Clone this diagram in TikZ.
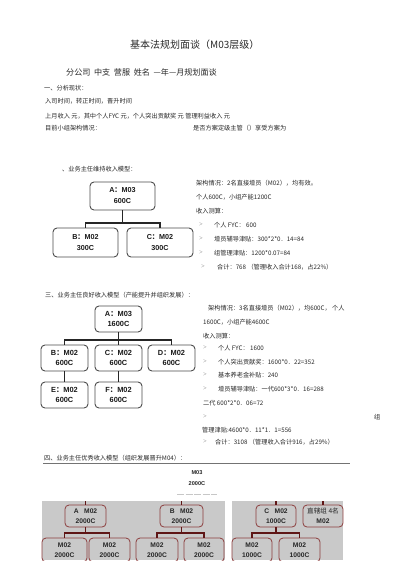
\documentclass[tikz,border=0pt]{standalone}
\usepackage{fontspec}
\setmainfont{Liberation Serif}
\newfontfamily\cjk{Noto Sans CJK SC}
\newfontfamily\arial{Liberation Sans}
\definecolor{panelgray}{RGB}{201,201,201}
\definecolor{boxred}{RGB}{140,62,62}
\definecolor{linered}{RGB}{95,22,22}
\definecolor{txtgray}{RGB}{40,40,40}
\tikzset{
  txt/.style={anchor=west, inner sep=0pt, text=txtgray, font=\cjk\fontsize{6.2}{7}\selectfont},
  gt/.style={anchor=west, inner sep=0pt, text=black!55, font=\fontsize{6.5}{7}\selectfont},
  bx/.style={draw=black!70, line width=0.9pt, rounded corners=4pt, fill=white, align=center,
             inner sep=0pt, text=black!90, font=\arial\bfseries\fontsize{7.2}{11}\selectfont},
  bxs/.style={bx, font=\arial\bfseries\fontsize{7.4}{10.5}\selectfont},
  cn/.style={line width=1.6pt, draw=black!85},
  rbx/.style={draw=boxred, line width=0.8pt, rounded corners=4pt, align=center, inner sep=0pt,
              text=black!85, font=\arial\bfseries\fontsize{6.7}{10}\selectfont},
  rcn/.style={line width=1.5pt, draw=linered}
}
\begin{document}
\begin{tikzpicture}[x=1pt,y=-1pt]
\useasboundingbox[fill=white] (0,0) rectangle (400,566);

% ---------- heading ----------
\node[anchor=west, inner sep=0pt, text=txtgray, font=\cjk\fontsize{10}{12}\selectfont] (title) at (130,45) {基本法规划面谈（M03层级）};
\node[anchor=west, inner sep=0pt, text=txtgray, font=\cjk\fontsize{8.1}{10}\selectfont] (sub) at (66,72) {分公司\hspace{0.45em}中支\hspace{0.45em}营服\hspace{0.45em}姓名\hspace{0.45em}—年—月规划面谈};

\node[txt] (l1) at (44,88) {一、分析现状：};
\node[txt] (l2) at (45,101) {入司时间，转正时间，晋升时间};
\node[txt] (l3) at (45,116) {上月收入\ 元，其中个人FYC\ 元，个人突出贡献奖\ 元\ 管理利益收入\ 元};
\node[txt] (l4) at (45,128) {目前小组架构情况：};
\node[txt] (l5) at (193,128) {是否方案定级主管（）享受方案为};

% ---------- section 2 ----------
\node[txt] (h2) at (62,169) {、业务主任维持收入模型：};

\node[bx, minimum width=65pt, minimum height=28pt] (a1) at (122.5,196) {A{\cjk ：}M03\\600C};
\node[bx, minimum width=65pt, minimum height=29pt] (b1) at (85.5,242.5) {B{\cjk ：}M02\\300C};
\node[bx, minimum width=66pt, minimum height=29pt] (c1) at (160,242.5) {C{\cjk ：}M02\\300C};
\coordinate (j1) at (122.5,223);
\draw[cn] (a1.south) -- (j1);
\draw[cn] (b1.north) |- (j1) -| (c1.north);

\node[txt] (r21) at (196,183) {架构情况：2名直接增员（M02），均有效。};
\node[txt] (r22) at (196,197) {个人600C，小组产能1200C};
\node[txt] (r23) at (196,211) {收入测算：};
\node[gt] (g24) at (199,225) {>};
\node[txt] (r24) at (214,225) {个人\ FYC：\ 600};
\node[gt] (g25) at (199,239) {>};
\node[txt] (r25) at (214,239) {增员辅导津贴：300*2*0．14=84};
\node[gt] (g26) at (199,253) {>};
\node[txt] (r26) at (214,253) {组管理津贴：1200*0.07=84};
\node[gt] (g27) at (201,267) {>};
\node[txt] (r27) at (217,267) {合计：768\ （管理收入合计168，占22\%）};

% ---------- section 3 ----------
\node[txt] (h3) at (45,295) {三、业务主任良好收入模型（产能提升并组织发展）：};

\node[bxs, minimum width=47pt, minimum height=26pt] (a2) at (118.5,319) {A{\cjk ：}M03\\1600C};
\node[bxs, minimum width=47pt, minimum height=26pt] (b2) at (64.5,358) {B{\cjk ：}M02\\600C};
\node[bxs, minimum width=47pt, minimum height=26pt] (c2) at (118.5,358) {C{\cjk ：}M02\\600C};
\node[bxs, minimum width=47pt, minimum height=26pt] (d2) at (171.5,358) {D{\cjk ：}M02\\600C};
\node[bxs, minimum width=47pt, minimum height=26pt] (e2) at (64.5,395) {E{\cjk ：}M02\\600C};
\node[bxs, minimum width=47pt, minimum height=26pt] (f2) at (118.5,395) {F{\cjk ：}M02\\600C};
\coordinate (j2) at (118.5,340);
\draw[cn] (a2.south) -- (j2);
\draw[cn] (b2.north) |- (j2) -| (d2.north);
\draw[cn] (j2) -- (c2.north);
\draw[cn] (b2.south) -- (e2.north);
\draw[cn] (c2.south) -- (f2.north);

\node[txt] (r31) at (208,308) {架构情况：3名直接增员（M02），均600C，\ 个人};
\node[txt] (r32) at (203,322) {1600C，小组产能4600C};
\node[txt] (r33) at (203,336) {收入测算：};
\node[gt] (g34) at (203,348) {>};
\node[txt] (r34) at (218,348) {个人\ FYC：\ 1600};
\node[gt] (g35) at (203,362) {>};
\node[txt] (r35) at (218,362) {个人突出贡献奖：1600*0．22=352};
\node[gt] (g36) at (203,375) {>};
\node[txt] (r36) at (218,375) {基本养老金补贴：240};
\node[gt] (g37) at (203,389) {>};
\node[txt] (r37) at (218,389) {增员辅导津贴：一代600*3*0．16=288};
\node[txt] (r38) at (203,403) {二代\ 600*2*0．06=72};
\node[gt] (g39) at (203,417) {>};
\node[txt] (r39) at (374,417) {组};
\node[txt] (r310) at (202,430) {管理津贴:4600*0．11*1．1=556};
\node[gt] (g311) at (203,442) {>};
\node[txt] (r311) at (215,442) {合计：3108\ （管理收入合计916，占29\%）};

% ---------- section 4 ----------
\node[txt] (h4) at (44,458) {四、业务主任优秀收入模型（组织发展晋升M04）：};
\coordinate (s1) at (43,463);
\coordinate (s2) at (350,463);
\draw[black!55, line width=0.8pt] (s1) -- (s2);

\node[inner sep=0pt, text=black!85, font=\arial\bfseries\fontsize{5.6}{7}\selectfont] (top) at (197,473) {M03};
\node[inner sep=0pt, text=black!85, font=\arial\bfseries\fontsize{5.6}{7}\selectfont] (topc) at (197,484) {2000C};
\coordinate (d1) at (177,494);
\coordinate (d2) at (217,494);
\draw[black!22, line width=0.5pt, dash pattern=on 7pt off 1.5pt] (d1) -- (d2);

\fill[panelgray] (42,501) rectangle (225,560);
\fill[panelgray] (232,501) rectangle (343,560);

\node[rbx, minimum width=41pt, minimum height=22pt] (ra) at (85.5,516) {A\ \ \ M02\\2000C};
\node[rbx, minimum width=43pt, minimum height=22pt] (rb) at (181.5,516) {B\ \ \ M02\\2000C};
\node[rbx, minimum width=40pt, minimum height=22pt] (rc) at (276,516) {C\ \ \ M02\\1000C};
\node[rbx, minimum width=40pt, minimum height=22pt] (rd) at (323,516) {{\cjk\mdseries\fontsize{6.6}{10}\selectfont 直辖组\ 4名}\\M02};

\coordinate (ta) at (85.5,501);
\coordinate (tb) at (181.5,501);
\coordinate (tc) at (276,501);
\coordinate (td) at (323,501);
\draw[rcn] (ta) -- (ra.north);
\draw[rcn] (tb) -- (rb.north);
\draw[rcn] (tc) -- (rc.north);
\draw[rcn] (td) -- (rd.north);

\begin{scope}
\clip (0,0) rectangle (400,560);
\node[rbx, minimum width=45pt, minimum height=24pt] (ra1) at (64.5,550) {M02\\2000C};
\node[rbx, minimum width=41pt, minimum height=24pt] (ra2) at (109.5,550) {M02\\2000C};
\node[rbx, minimum width=42pt, minimum height=24pt] (rb1) at (157,550) {M02\\2000C};
\node[rbx, minimum width=40pt, minimum height=24pt] (rb2) at (204,550) {M02\\2000C};
\node[rbx, minimum width=40pt, minimum height=24pt] (rc1) at (252,550) {M02\\1000C};
\node[rbx, minimum width=41pt, minimum height=24pt] (rc2) at (299.5,550) {M02\\1000C};
\end{scope}

\coordinate (ja) at (85.5,533);
\coordinate (jb) at (181.5,533);
\coordinate (jc) at (276,533);
\draw[rcn] (ra.south) -- (ja);
\draw[rcn] (ra1.north) |- (ja) -| (ra2.north);
\draw[rcn] (rb.south) -- (jb);
\draw[rcn] (rb1.north) |- (jb) -| (rb2.north);
\draw[rcn] (rc.south) -- (jc);
\draw[rcn] (rc1.north) |- (jc) -| (rc2.north);
\end{tikzpicture}
\end{document}
